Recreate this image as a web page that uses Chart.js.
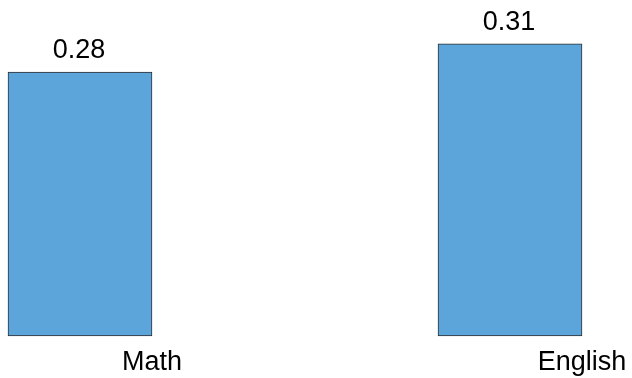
<!DOCTYPE html>
<html>
<head>
<meta charset="utf-8">
<script src="https://cdn.jsdelivr.net/npm/chart.js@4/dist/chart.umd.min.js"></script>
<style>
  html, body { margin: 0; padding: 0; background: #ffffff; }
  #wrap { width: 632px; height: 378px; position: relative; }
</style>
</head>
<body>
<div id="wrap"><canvas id="chart" width="632" height="378"></canvas></div>
<script>
// Subjects and their scores
const categories = ['Math', 'English'];
const scores = [0.28, 0.31];

const FONT = '"Liberation Sans", Arial, Helvetica, sans-serif';

// Writes each bar's value just above its top edge
const valueLabels = {
  id: 'valueLabels',
  afterDatasetsDraw(chart) {
    const ctx = chart.ctx;
    const meta = chart.getDatasetMeta(0);
    ctx.save();
    ctx.font = '27px ' + FONT;
    ctx.fillStyle = '#000000';
    ctx.textAlign = 'center';
    ctx.textBaseline = 'alphabetic';
    meta.data.forEach((bar, i) => {
      const v = chart.data.datasets[0].data[i];
      ctx.fillText(v.toFixed(2), bar.x - 1, bar.y - 14);
    });
    ctx.restore();
  }
};

new Chart(document.getElementById('chart'), {
  type: 'bar',
  data: {
    labels: categories,
    datasets: [{
      data: scores,
      backgroundColor: '#5CA5DA',
      borderColor: '#2E2E2E',
      borderWidth: 1,
      borderSkipped: false,
      barThickness: 144,
      clip: false
    }]
  },
  options: {
    responsive: false,
    animation: false,
    layout: { padding: { left: 80, right: 122, top: 6, bottom: 0 } },
    plugins: {
      legend: { display: false },
      tooltip: { enabled: false }
    },
    scales: {
      x: {
        offset: false,
        grid: { display: false, drawTicks: false },
        border: { display: false },
        ticks: {
          color: '#000000',
          font: { family: FONT, size: 27 },
          labelOffset: 72,
          padding: 10,
          maxRotation: 0
        },
        afterFit(scale) { scale.height = 42; }
      },
      y: {
        display: false,
        min: 0,
        max: 0.35
      }
    }
  },
  plugins: [valueLabels]
});
</script>
</body>
</html>
